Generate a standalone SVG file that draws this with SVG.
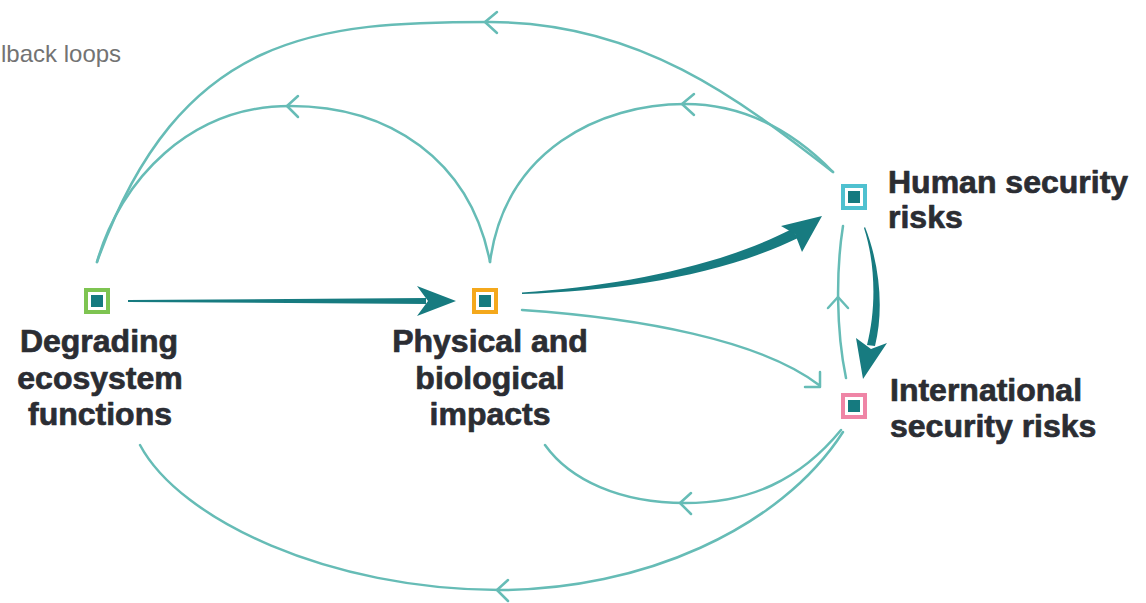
<svg xmlns="http://www.w3.org/2000/svg" width="1146" height="603" viewBox="0 0 1146 603">
<style>
.lbl{font-family:"Liberation Sans",Arial,sans-serif;font-weight:bold;font-size:32px;fill:#2b2d33;stroke:#2b2d33;stroke-width:0.7;stroke-linejoin:round}
.cap{font-family:"Liberation Sans",Arial,sans-serif;font-size:24px;fill:#737373}
.fb{fill:none;stroke:#66bcb6;stroke-width:2.5;stroke-linecap:round;stroke-linejoin:round}
.thick{fill:#177b80;stroke:none}
.inner{fill:#157a7f}
</style>
<rect width="1146" height="603" fill="#ffffff"/>
<text class="cap" x="1" y="62">lback loops</text>

<g id="connectors">
  <!-- feedback loops -->
  <path class="fb" d="M833 172 C740 100 640 22 490 22 C320 22 180 30 97 262"/>
  <polyline class="fb" points="497,12 485,22 497,33"/>
  <path class="fb" d="M490 262 C470 160 390 106 290 106 C190 106 120 180 97 262"/>
  <polyline class="fb" points="298,96 287,106 298,117"/>
  <path class="fb" d="M833 172 C790 128 740 104 685 104 C600 104 505 150 490 262"/>
  <polyline class="fb" points="694,94 682,104 694,115"/>
  <path class="fb" d="M841 430 C800 480 750 503 685 503 C620 503 570 480 545 445"/>
  <polyline class="fb" points="691,493 680,503 691,514"/>
  <path class="fb" d="M843 432 C780 530 640 590 500 590 C330 590 180 520 140 445"/>
  <polyline class="fb" points="508,580 497,590 508,601"/>
  <!-- International to Human -->
  <path class="fb" d="M846 378 C836 330 836 270 843 226"/>
  <polyline class="fb" points="828,308 838,297 848,308"/>
  <!-- Physical to International -->
  <path class="fb" d="M522 310 C640 318 760 340 819 385"/>
  <polyline class="fb" points="820,372 820,387 805,387"/>
  <!-- thick arrows -->
  <path class="thick" d="M128 300 L426 298 L426 304 L128 302 Z"/>
  <path class="thick" d="M456 301 L417 286 L428 301 L417 316 Z"/>
  <path class="thick" d="M522 292.5 C620 286 720 266 792 229 L798 238 C722 275 620 291 522 294 Z"/>
  <path class="thick" d="M822 216 L781 226 L795 234 L802 252 Z"/>
  <path class="thick" d="M865 227 C880 265 884 310 875 346 L867 345 C876 310 876 265 864 228 Z"/>
  <path class="thick" d="M863 379 L856 338 L871 349 L887 343 Z"/>
</g>

<g id="node-degrading">
  <rect x="86" y="290" width="22" height="22" fill="#ffffff" stroke="#7ec451" stroke-width="4"/>
  <rect class="inner" x="91" y="295" width="12" height="12"/>
  <text class="lbl" text-anchor="middle" x="99" y="352">Degrading</text>
  <text class="lbl" text-anchor="middle" x="100" y="389">ecosystem</text>
  <text class="lbl" text-anchor="middle" x="100" y="425">functions</text>
</g>

<g id="node-physical">
  <rect x="474" y="290" width="22" height="22" fill="#ffffff" stroke="#f4a81c" stroke-width="4"/>
  <rect class="inner" x="479" y="295" width="12" height="12"/>
  <text class="lbl" text-anchor="middle" x="490" y="352">Physical and</text>
  <text class="lbl" text-anchor="middle" x="490" y="389">biological</text>
  <text class="lbl" text-anchor="middle" x="490" y="425">impacts</text>
</g>

<g id="node-human">
  <rect x="843" y="186" width="22" height="22" fill="#ffffff" stroke="#4fc1d0" stroke-width="4"/>
  <rect class="inner" x="848" y="191" width="12" height="12"/>
  <text class="lbl" x="888" y="193">Human security</text>
  <text class="lbl" x="888" y="228">risks</text>
</g>

<g id="node-international">
  <rect x="843" y="395" width="22" height="22" fill="#ffffff" stroke="#ef85a6" stroke-width="4"/>
  <rect class="inner" x="848" y="400" width="12" height="12"/>
  <text class="lbl" x="890" y="401">International</text>
  <text class="lbl" x="890" y="437">security risks</text>
</g>
</svg>
